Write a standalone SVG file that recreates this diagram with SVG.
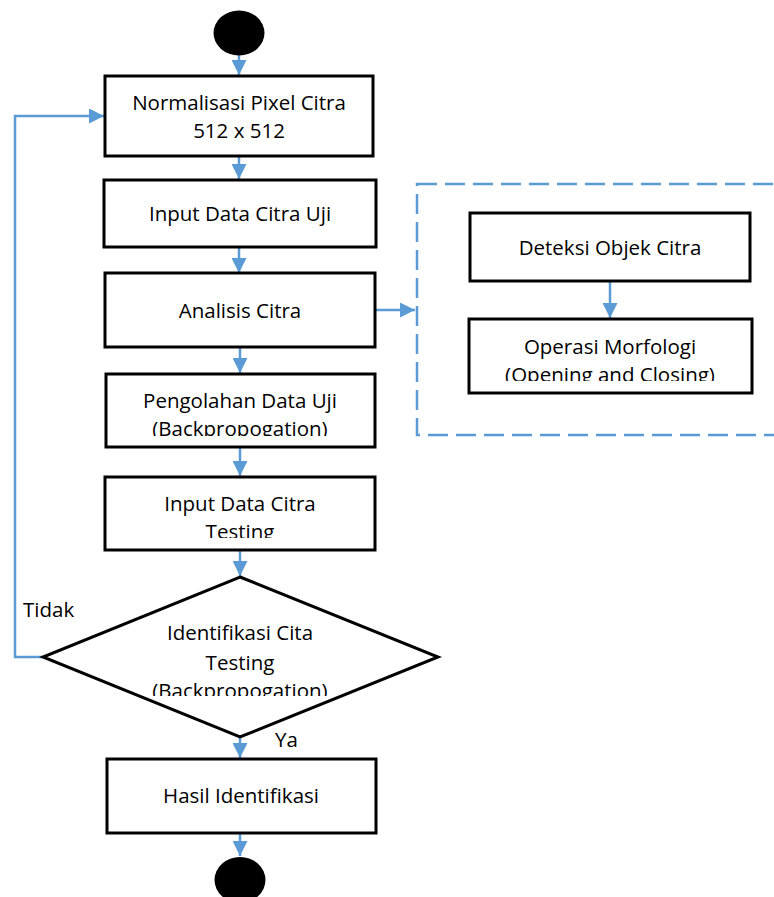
<svg xmlns="http://www.w3.org/2000/svg" width="774" height="897" viewBox="0 0 774 897">
<style>
.box{fill:#fff;stroke:#000;stroke-width:3}
.term{fill:#000}
.t{font-family:"Open Sans","Liberation Sans",Arial,sans-serif;font-size:20.5px;fill:#000;text-anchor:middle}
.tl{font-family:"Open Sans","Liberation Sans",Arial,sans-serif;font-size:20.5px;fill:#000}
.c{fill:none;stroke:#5B9BD5;stroke-width:2.5}
.dash{fill:none;stroke:#5B9BD5;stroke-width:2.5;stroke-dasharray:20 8}
</style>
<defs>
<marker id="ah" markerWidth="6" markerHeight="6" refX="6" refY="3" orient="auto" markerUnits="strokeWidth">
<path d="M0,0 L6,3 L0,6 Z" fill="#5B9BD5"/>
</marker>
<clipPath id="cp4"><rect x="100" y="370" width="280" height="66"/></clipPath>
<clipPath id="cp5"><rect x="100" y="470" width="280" height="68"/></clipPath>
<clipPath id="cpd"><rect x="40" y="575" width="400" height="121"/></clipPath>
<clipPath id="cpo"><rect x="465" y="315" width="290" height="66"/></clipPath>
</defs>
<g id="connectors">
<line class="c" x1="239" y1="55" x2="239" y2="75" marker-end="url(#ah)"/>
<line class="c" x1="239" y1="156" x2="239" y2="179" marker-end="url(#ah)"/>
<line class="c" x1="239" y1="247" x2="239" y2="273" marker-end="url(#ah)"/>
<line class="c" x1="375" y1="310" x2="415" y2="310" marker-end="url(#ah)"/>
<line class="c" x1="240" y1="347" x2="240" y2="373" marker-end="url(#ah)"/>
<line class="c" x1="240" y1="447" x2="240" y2="476" marker-end="url(#ah)"/>
<line class="c" x1="240" y1="550" x2="240" y2="576" marker-end="url(#ah)"/>
<line class="c" x1="240" y1="737" x2="240" y2="758" marker-end="url(#ah)"/>
<line class="c" x1="240" y1="833" x2="240" y2="856" marker-end="url(#ah)"/>
<line class="c" x1="610" y1="281" x2="610" y2="318" marker-end="url(#ah)"/>
<polyline class="c" points="43,657 15,657 15,116 104,116" marker-end="url(#ah)"/>
<rect class="dash" x="417" y="184" width="380" height="251"/>
</g>
<g id="start"><ellipse class="term" cx="239" cy="33" rx="25.5" ry="22.5"/></g>
<g id="normalisasi">
<rect class="box" x="105" y="76" width="268" height="80"/>
<text class="t" x="239" y="110">Normalisasi Pixel Citra</text>
<text class="t" x="239" y="138">512 x 512</text>
</g>
<g id="input-uji">
<rect class="box" x="104" y="180" width="272" height="67"/>
<text class="t" x="240" y="221">Input Data Citra Uji</text>
</g>
<g id="analisis">
<rect class="box" x="105" y="273" width="270" height="74"/>
<text class="t" x="240" y="318">Analisis Citra</text>
</g>
<g id="pengolahan">
<rect class="box" x="106" y="374" width="269" height="73"/>
<g clip-path="url(#cp4)">
<text class="t" x="240" y="408">Pengolahan Data Uji</text>
<text class="t" x="240" y="436">(Backpropogation)</text>
</g>
</g>
<g id="input-testing">
<rect class="box" x="105" y="477" width="270" height="73"/>
<g clip-path="url(#cp5)">
<text class="t" x="240" y="511">Input Data Citra</text>
<text class="t" x="240" y="539">Testing</text>
</g>
</g>
<g id="identifikasi">
<polygon class="box" points="240,577 438,657 240,737 43,657"/>
<g clip-path="url(#cpd)">
<text class="t" x="240" y="640">Identifikasi Cita</text>
<text class="t" x="240" y="670">Testing</text>
<text class="t" x="240" y="698">(Backpropogation)</text>
</g>
</g>
<g id="hasil">
<rect class="box" x="107" y="759" width="269" height="74"/>
<text class="t" x="241" y="803">Hasil Identifikasi</text>
</g>
<g id="end"><ellipse class="term" cx="240" cy="880" rx="25.5" ry="23"/></g>
<g id="deteksi">
<rect class="box" x="470" y="213" width="280" height="68"/>
<text class="t" x="610" y="255">Deteksi Objek Citra</text>
</g>
<g id="operasi">
<rect class="box" x="469" y="319" width="283" height="74"/>
<g clip-path="url(#cpo)">
<text class="t" x="610" y="354">Operasi Morfologi</text>
<text class="t" x="610" y="382">(Opening and Closing)</text>
</g>
</g>
<g id="labels">
<text class="tl" x="23" y="617">Tidak</text>
<text class="tl" x="275" y="747">Ya</text>
</g>
</svg>
